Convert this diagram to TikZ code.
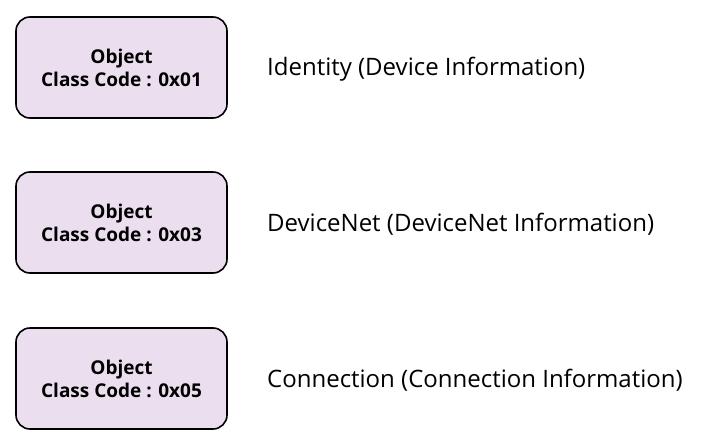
\documentclass[tikz,border=0pt]{standalone}
\usepackage{fontspec}
\setmainfont{Open Sans}
\definecolor{boxfill}{HTML}{EBDEEF}
\begin{document}
\begin{tikzpicture}[x=1pt,y=-1pt,
  objbox/.style={draw=black, line width=1.6pt, fill=boxfill, rounded corners=14pt,
    minimum width=211pt, minimum height=101pt, align=center, inner sep=0pt,
    font=\fontsize{19}{23}\selectfont\bfseries},
  desc/.style={anchor=west, inner sep=0pt, font=\fontsize{24}{28}\selectfont}]
\useasboundingbox (0,0) rectangle (701,444);
\node[objbox] (o1) at (121.5,67.5) {Object\\Class Code : 0x01};
\node[objbox] (o2) at (121.5,222.5) {Object\\Class Code : 0x03};
\node[objbox] (o3) at (121.5,378.5) {Object\\Class Code : 0x05};
\node[desc] (d1) at (267,69) {Identity (Device Information)};
\node[desc] (d2) at (267,224) {DeviceNet (DeviceNet Information)};
\node[desc] (d3) at (267,380) {Connection (Connection Information)};
\end{tikzpicture}
\end{document}
